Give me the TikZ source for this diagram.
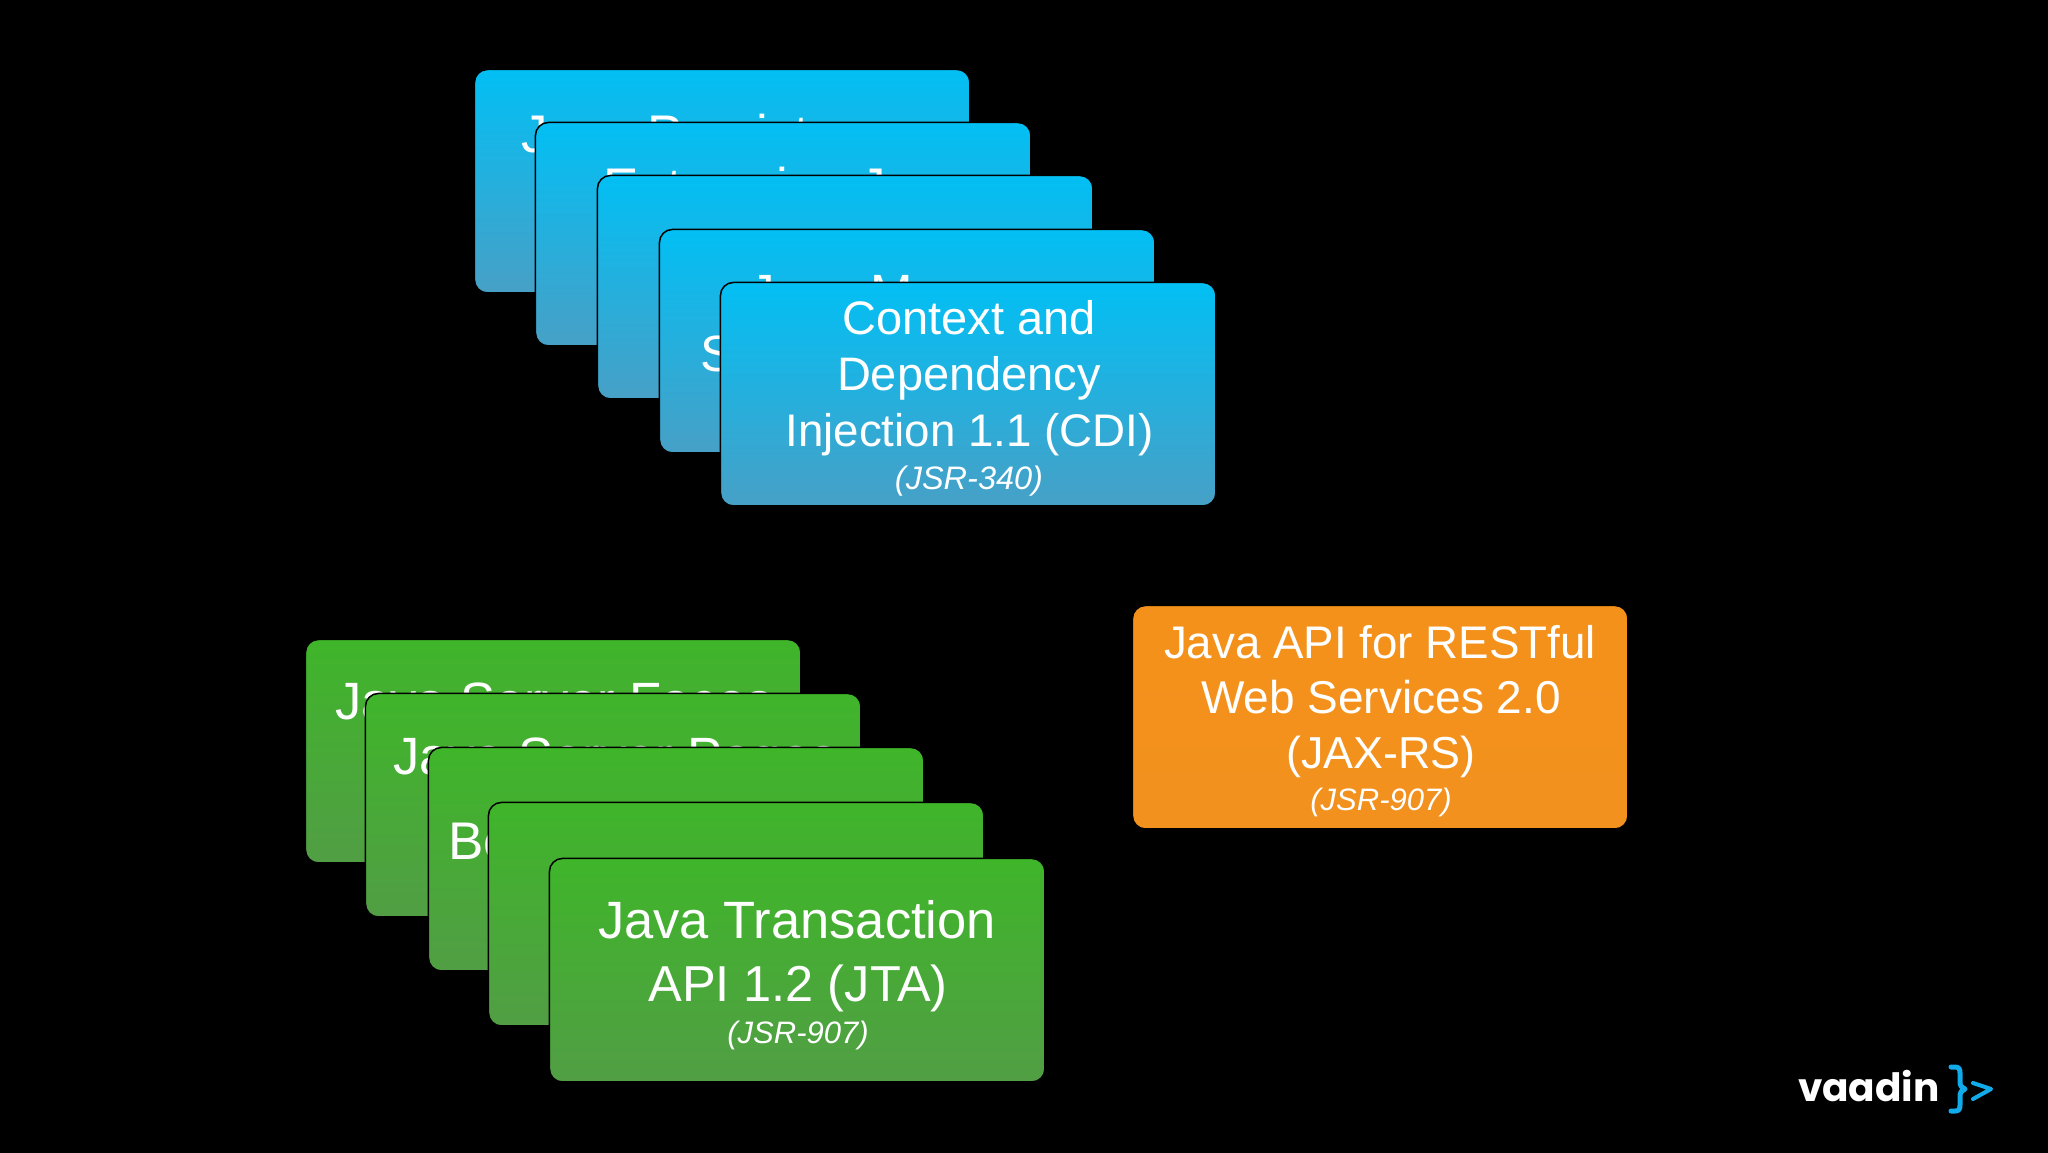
\documentclass[tikz,border=0pt]{standalone}
\usepackage{fontspec}
\setmainfont{Liberation Sans}
\newfontfamily\logofont{Poppins}
\definecolor{bluetop}{HTML}{02BFF4}
\definecolor{bluebot}{HTML}{47A0C6}
\definecolor{greentop}{HTML}{3FB52A}
\definecolor{greenbot}{HTML}{519E44}
\definecolor{orangetop}{HTML}{F4911A}
\definecolor{orangebot}{HTML}{F2911E}
\definecolor{logoblue}{HTML}{10ABE8}
\tikzset{
  card/.style={rectangle,rounded corners=13pt,draw=black,line width=1.5pt,inner sep=0pt,
    minimum width=495.5pt,minimum height=223.5pt,anchor=north west,xshift=-1.3pt,yshift=1.3pt},
  bluecard/.style={card,top color=bluetop,bottom color=bluebot},
  greencard/.style={card,top color=greentop,bottom color=greenbot},
  orangecard/.style={card,top color=orangetop,bottom color=orangebot},
  label/.style={text=white,inner sep=0pt,outer sep=0pt},
  sized/.style={label,font=\fontsize{#1}{#1}\selectfont},
  jsrtext/.style={label,font=\fontsize{#1}{#1}\itshape\selectfont},
}
\begin{document}
\begin{tikzpicture}[x=1pt,y=-1pt]
\useasboundingbox (0,0) rectangle (2048,1152);
\fill[black] (-6,-6) rectangle (2054,1158);
% blue stack
\node[bluecard] (b1) at (475,70) {};
\node[sized=53,anchor=base west] (b1a) at (521,152) {Java Persistence};
\node[bluecard] (b2) at (536,123) {};
\node[sized=53,anchor=base west] (b2a) at (603,205) {Enterprise Java};
\node[bluecard] (b3) at (598,176) {};
\node[bluecard] (b4) at (660,230) {};
\node[sized=51,anchor=base west] (b4a) at (749,310) {Java M};
\node[sized=51,anchor=base west] (b4b) at (700,371) {S};
\node[bluecard] (b5) at (721,283) {};
\node[sized=47,anchor=base] (b5a) at (969,334) {Context and};
\node[sized=47,anchor=base] (b5b) at (969,390) {Dependency};
\node[sized=45.7,anchor=base] (b5c) at (969.5,446) {Injection 1.1 (CDI)};
\node[jsrtext=32.5,anchor=base] (b5d) at (969,489) {(JSR-340)};
% green stack
\node[greencard] (g1) at (306,640) {};
\node[sized=52.5,anchor=base west] (g1a) at (335,719) {Java Server Faces};
\node[greencard] (g2) at (366,694) {};
\node[sized=52.5,anchor=base west] (g2a) at (393,774) {Java Server Pages};
\node[greencard] (g3) at (429,748) {};
\node[sized=53,anchor=base west] (g3a) at (448,859) {Be};
\node[greencard] (g4) at (489,803) {};
\node[greencard] (g5) at (550,859) {};
\node[sized=52.5,anchor=base] (g5a) at (797,938) {Java Transaction};
\node[sized=50.5,anchor=base] (g5b) at (798,1001) {API 1.2 (JTA)};
\node[jsrtext=31,anchor=base] (g5c) at (798,1043) {(JSR-907)};
% orange card
\node[orangecard] (o1) at (1133,606) {};
\node[sized=45.7,anchor=base] (o1a) at (1380,658) {Java API for RESTful};
\node[sized=46,anchor=base] (o1b) at (1381,713) {Web Services 2.0};
\node[sized=44.8,anchor=base] (o1c) at (1381,768) {(JAX-RS)};
\node[jsrtext=31,anchor=base] (o1d) at (1381,810) {(JSR-907)};
% logo
\node[label,anchor=base west,font=\logofont\bfseries\fontsize{39}{39}\selectfont] (logo) at (1798,1101) {vaadin};
\draw[logoblue,line width=5pt,line cap=round,line join=round]
  (1951,1067) -- (1955,1067) .. controls (1959,1067) and (1960,1069) .. (1960,1073)
  -- (1960,1082) .. controls (1960,1086) and (1962,1088) .. (1965,1089)
  .. controls (1962,1090) and (1960,1092) .. (1960,1096)
  -- (1960,1105) .. controls (1960,1109) and (1959,1111) .. (1955,1111) -- (1951,1111);
\draw[logoblue,line width=4pt,line cap=round,line join=round]
  (1973,1083) -- (1991,1089) -- (1973,1099);
\end{tikzpicture}
\end{document}
